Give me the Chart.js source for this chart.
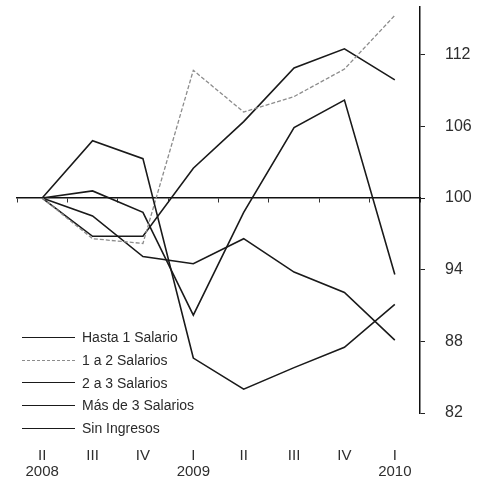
<!DOCTYPE html>
<html>
<head>
<meta charset="utf-8">
<script src="https://cdn.jsdelivr.net/npm/chart.js@4.4.1/dist/chart.umd.min.js"></script>
<style>
  html, body { margin: 0; padding: 0; background: #fff; }
  #wrap { position: relative; width: 479px; height: 483px; }
  #legend {
    position: absolute;
    left: 22px;
    top: 326px;
    font: 14px "Liberation Sans", Arial, sans-serif;
    color: #2a2a2a;
  }
  .item { display: flex; align-items: center; height: 22.7px; white-space: nowrap; }
  .swatch { width: 53px; height: 0; margin-right: 7px; }
</style>
</head>
<body>
<div id="wrap">
  <canvas id="chart" width="479" height="483"></canvas>
  <div id="legend"></div>
</div>
<script>
const quarters = [
  ["II", "2008"], ["III", ""], ["IV", ""], ["I", "2009"],
  ["II", ""], ["III", ""], ["IV", ""], ["I", "2010"]
];

const seriesNames = [
  "Hasta 1 Salario",
  "1 a 2 Salarios",
  "2 a 3 Salarios",
  "Más de 3 Salarios",
  "Sin Ingresos"
];

const hasta1 = [100, 104.8, 103.3, 86.6, 84.0, 85.8, 87.5, 91.1];
const de1a2 = [100, 96.6, 96.2, 110.7, 107.2, 108.5, 110.8, 115.3];
const de2a3 = [100, 100.6, 98.8, 90.2, 98.8, 105.9, 108.2, 93.6];
const masDe3 = [100, 96.8, 96.8, 102.5, 106.4, 110.9, 112.5, 109.9];
const sinIngresos = [100, 98.5, 95.1, 94.5, 96.6, 93.8, 92.1, 88.1];

const yTicks = [82, 88, 94, 100, 106, 112];

const dark = "#1a1a1a";
const grey = "#8c8c8c";
const textColor = "#2e2e2e";
const font = "'Liberation Sans', Arial, sans-serif";

const styles = [
  { color: dark, dash: [] },
  { color: grey, dash: [4, 2] },
  { color: dark, dash: [] },
  { color: dark, dash: [] },
  { color: dark, dash: [] }
];

const values = [hasta1, de1a2, de2a3, masDe3, sinIngresos];

const datasets = values.map((data, i) => ({
  label: seriesNames[i],
  data,
  borderColor: styles[i].color,
  borderDash: styles[i].dash,
  borderWidth: i === 1 ? 1.3 : 1.6,
  pointRadius: 0,
  tension: 0,
  fill: false,
  xAxisID: "x",
  yAxisID: "y"
}));

// no label-driven padding: the plot box is set by layout.padding and afterFit
function noPadding(scale) {
  scale.paddingLeft = 0;
  scale.paddingRight = 0;
  scale.paddingTop = 0;
  scale.paddingBottom = 0;
}

new Chart(document.getElementById("chart"), {
  type: "line",
  data: { labels: quarters, datasets },
  options: {
    responsive: false,
    animation: false,
    layout: { padding: { left: 17, top: 7, right: 0, bottom: 0 } },
    plugins: {
      legend: { display: false },
      tooltip: { enabled: false }
    },
    scales: {
      x: {
        type: "category",
        position: "bottom",
        offset: true,
        grid: { display: false, drawTicks: false },
        border: { display: false },
        ticks: {
          color: textColor,
          font: { family: font, size: 15, lineHeight: 1.05 },
          padding: 35,
          maxRotation: 0,
          autoSkip: false
        },
        afterFit: (scale) => {
          scale.height = 70;
          noPadding(scale);
        }
      },
      x2: {
        type: "category",
        labels: quarters,
        position: { y: 100 },
        offset: true,
        grid: {
          offset: true,
          drawOnChartArea: false,
          drawTicks: true,
          tickLength: 4,
          color: "#333"
        },
        border: { display: true, color: "#111", width: 1.5 },
        ticks: { display: false },
        afterFit: noPadding
      },
      y: {
        position: "right",
        min: 82,
        max: 116,
        afterBuildTicks: (axis) => {
          axis.ticks = yTicks.map((v) => ({ value: v }));
        },
        grid: {
          drawOnChartArea: false,
          drawTicks: true,
          tickLength: 5,
          color: "#222"
        },
        border: { display: true, color: "#111", width: 1.5 },
        ticks: {
          color: textColor,
          font: { family: font, size: 16 },
          padding: 20
        },
        afterFit: (scale) => {
          scale.width = 59;
          noPadding(scale);
        }
      }
    }
  }
});

const legendBox = document.getElementById("legend");
seriesNames.forEach((name, i) => {
  const item = document.createElement("div");
  item.className = "item";
  const swatch = document.createElement("span");
  swatch.className = "swatch";
  swatch.style.borderTop = (i === 1 ? "1.3px dashed " : "1.6px solid ") + styles[i].color;
  const text = document.createElement("span");
  text.textContent = name;
  item.appendChild(swatch);
  item.appendChild(text);
  legendBox.appendChild(item);
});
</script>
</body>
</html>
